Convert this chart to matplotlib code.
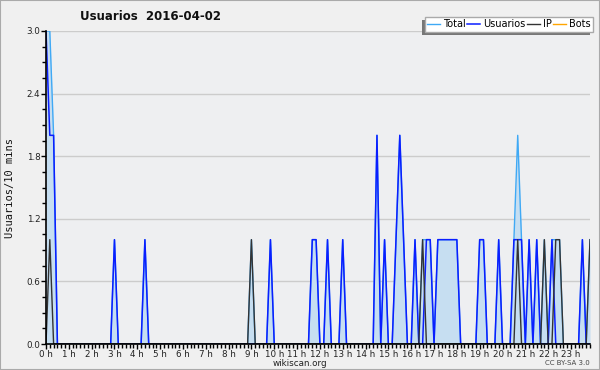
import matplotlib
matplotlib.use("Agg")
import matplotlib.pyplot as plt
from matplotlib.patches import Rectangle, Shadow

# 10-minute bins, 144 per day (rows of 12 = 2 hours)
usuarios = [3, 2, 2, 0, 0, 0, 0, 0, 0, 0, 0, 0,
            0, 0, 0, 0, 0, 0, 1, 0, 0, 0, 0, 0,
            0, 0, 1, 0, 0, 0, 0, 0, 0, 0, 0, 0,
            0, 0, 0, 0, 0, 0, 0, 0, 0, 0, 0, 0,
            0, 0, 0, 0, 0, 0, 0, 0, 0, 0, 0, 1,
            0, 0, 0, 0, 0, 0, 0, 0, 0, 0, 1, 1,
            0, 0, 1, 0, 0, 0, 1, 0, 0, 0, 0, 0,
            0, 0, 0, 2, 0, 1, 0, 0, 1, 2, 1, 0,
            0, 1, 0, 0, 1, 1, 0, 1, 1, 1, 1, 1,
            1, 0, 0, 0, 0, 0, 1, 1, 0, 0, 0, 1,
            0, 0, 0, 1, 1, 1, 0, 1, 0, 1, 0, 0,
            0, 1, 0, 0, 0, 0, 0, 0, 0, 1, 0, 0]

ip = [0, 1, 0, 0, 0, 0, 0, 0, 0, 0, 0, 0,
      0, 0, 0, 0, 0, 0, 0, 0, 0, 0, 0, 0,
      0, 0, 0, 0, 0, 0, 0, 0, 0, 0, 0, 0,
      0, 0, 0, 0, 0, 0, 0, 0, 0, 0, 0, 0,
      0, 0, 0, 0, 0, 0, 1, 0, 0, 0, 0, 0,
      0, 0, 0, 0, 0, 0, 0, 0, 0, 0, 0, 0,
      0, 0, 0, 0, 0, 0, 0, 0, 0, 0, 0, 0,
      0, 0, 0, 0, 0, 0, 0, 0, 0, 0, 0, 0,
      0, 0, 0, 1, 0, 0, 0, 0, 0, 0, 0, 0,
      0, 0, 0, 0, 0, 0, 0, 0, 0, 0, 0, 0,
      0, 0, 0, 0, 1, 0, 0, 0, 0, 0, 0, 1,
      0, 0, 1, 1, 0, 0, 0, 0, 0, 0, 0, 1]

total = [3, 3, 2, 0, 0, 0, 0, 0, 0, 0, 0, 0,
         0, 0, 0, 0, 0, 0, 1, 0, 0, 0, 0, 0,
         0, 0, 1, 0, 0, 0, 0, 0, 0, 0, 0, 0,
         0, 0, 0, 0, 0, 0, 0, 0, 0, 0, 0, 0,
         0, 0, 0, 0, 0, 0, 1, 0, 0, 0, 0, 1,
         0, 0, 0, 0, 0, 0, 0, 0, 0, 0, 1, 1,
         0, 0, 1, 0, 0, 0, 1, 0, 0, 0, 0, 0,
         0, 0, 0, 2, 0, 1, 0, 0, 1, 2, 1, 0,
         0, 1, 0, 1, 1, 1, 0, 1, 1, 1, 1, 1,
         1, 0, 0, 0, 0, 0, 1, 1, 0, 0, 0, 1,
         0, 0, 0, 1, 2, 1, 0, 1, 0, 1, 0, 1,
         0, 1, 1, 1, 0, 0, 0, 0, 0, 1, 0, 1]

bots = [0] * 144

hour_labels = ["%d h" % h for h in range(24)]
y_ticks = [0.0, 0.6, 1.2, 1.8, 2.4, 3.0]

x = list(range(len(total)))

fig = plt.figure(figsize=(6, 3.7), dpi=100, facecolor="#f0f0f0")
ax = fig.add_axes([46 / 600, 26 / 370, 544 / 600, 313 / 370])
ax.set_facecolor("#eeeff1")

ax.fill_between(x, total, 0, color="#c6def1", lw=0, zorder=1)
ax.plot(x, total, color="#3fa9f5", lw=1, zorder=2, label="Total")
ax.plot(x, usuarios, color="#0a1eff", lw=1.1, zorder=3, label="Usuarios")
ax.plot(x, ip, color="#333333", lw=1, zorder=4, label="IP")
ax.plot(x, bots, color="#ffa500", lw=1, zorder=0.5, label="Bots")

ax.set_xlim(0, 143)
ax.set_ylim(0, 3.0)

ax.set_xticks([6 * h for h in range(24)])
ax.set_xticklabels(hour_labels)
ax.set_xticks(x, minor=True)
ax.set_yticks(y_ticks)
ax.set_yticklabels(["%.1f" % v for v in y_ticks])
ax.set_yticks([i * 0.15 for i in range(21)], minor=True)

ax.tick_params(axis="both", which="major", length=3.5, width=1, labelsize=6.3,
               pad=0.5, color="black", labelcolor="#222222")
ax.tick_params(axis="both", which="minor", length=3, width=1, color="black")

ax.grid(axis="y", which="major", color="#cccccc", lw=1)
ax.set_axisbelow(True)
for s in ["top", "right"]:
    ax.spines[s].set_visible(False)
for s in ["left", "bottom"]:
    ax.spines[s].set_linewidth(1.2)
    ax.spines[s].set_zorder(10)

fig.text(151 / 600, 1 - 16 / 370, "Usuarios  2016-04-02", ha="center", va="center",
         fontsize=8.5, fontweight="bold", color="#111111")
fig.text(10 / 600, 1 - 188 / 370, "Usuarios/10 mins", rotation=90, ha="center",
         va="center", fontsize=7.5, family="DejaVu Sans Mono", color="#111111")
fig.text(300 / 600, 1 - 363 / 370, "wikiscan.org", ha="center", va="center",
         fontsize=6.3, color="#222222")
fig.text(590 / 600, 1 - 363 / 370, "CC BY-SA 3.0", ha="right", va="center",
         fontsize=5, color="#444444")

handles, labels = ax.get_legend_handles_labels()
leg = fig.legend(handles, labels, loc="upper right", ncol=4,
                 bbox_to_anchor=(593 / 600, 1 - 17 / 370), fontsize=7,
                 frameon=True, fancybox=False, edgecolor="#aaaaaa",
                 facecolor="white", framealpha=1, handlelength=1.3,
                 handletextpad=0.3, columnspacing=0.2, borderpad=0.25,
                 borderaxespad=0)
leg.get_frame().set_linewidth(1)
leg.set_zorder(6)

fig.canvas.draw()
shadow = Shadow(leg.legendPatch, -2.2, -2.2)
shadow.set_facecolor("#777777")
shadow.set_edgecolor("none")
shadow.set_alpha(1)
shadow.set_zorder(5)
fig.add_artist(shadow)
fig.patches.append(Rectangle((0, 0), 1, 1, transform=fig.transFigure, fill=False,
                             edgecolor="#aaaaaa", lw=1.5, zorder=20))

fig.savefig("out.png", dpi=100, facecolor=fig.get_facecolor())
